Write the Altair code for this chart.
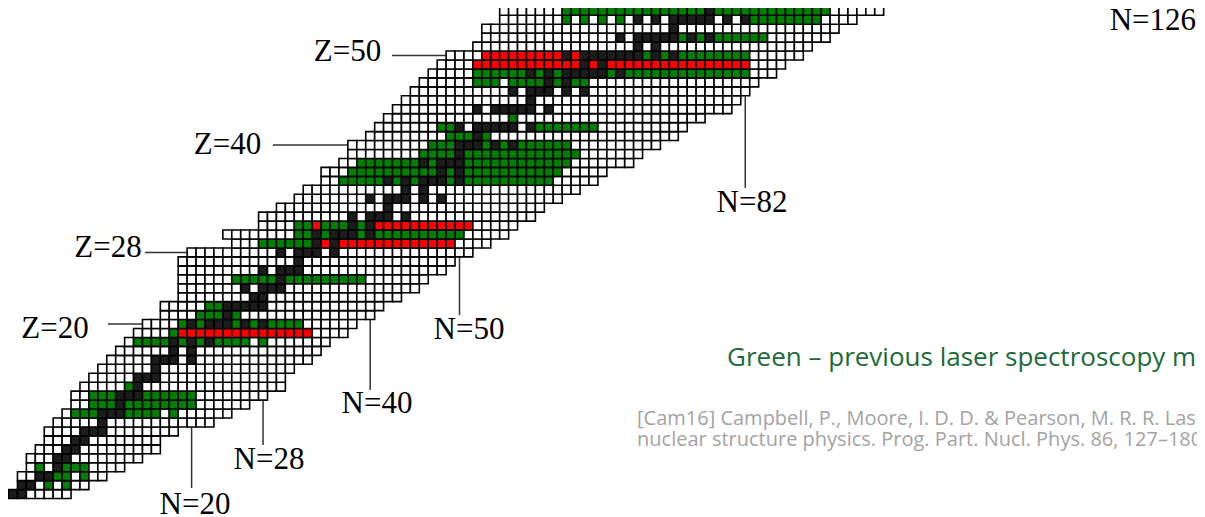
import altair as alt
import pandas as pd

# ---------------- data ----------------
Z_VALUES = list(range(1, 56))
N_FIRST = [0, 1, 1, 2, 2, 3, 4, 4, 5, 6,
           7, 7, 8, 9, 10, 11, 12, 13, 14, 15,
           17, 17, 19, 19, 19, 19, 19, 20, 25, 24,
           28, 28, 30, 32, 33, 35, 35, 37, 38, 38,
           40, 41, 42, 43, 44, 45, 46, 47, 48, 49,
           52, 53, 53, 55, 55]
N_LAST = [6, 8, 10, 12, 14, 16, 16, 18, 22, 24,
          26, 28, 30, 30, 31, 33, 34, 35, 37, 38,
          40, 41, 43, 45, 46, 48, 49, 51, 53, 55,
          56, 58, 59, 61, 63, 65, 66, 69, 70, 72,
          74, 75, 77, 80, 81, 82, 83, 85, 86, 88,
          89, 91, 92, 94, 97]

STABLE = {
    1: [0, 1], 2: [1, 2], 3: [3, 4], 4: [5], 5: [5, 6], 6: [6, 7], 7: [7, 8],
    8: [8, 9, 10], 9: [10], 10: [10, 11, 12], 11: [12], 12: [12, 13, 14],
    13: [14], 14: [14, 15, 16], 15: [16], 16: [16, 17, 18, 20], 17: [18, 20],
    18: [18, 20, 22], 19: [20, 21, 22], 20: [20, 22, 23, 24, 26, 28], 21: [24],
    22: [24, 25, 26, 27, 28], 23: [27, 28], 24: [26, 28, 29, 30], 25: [30],
    26: [28, 30, 31, 32], 27: [32], 28: [30, 32, 33, 34, 36], 29: [34, 36],
    30: [34, 36, 37, 38, 40], 31: [38, 40], 32: [38, 40, 41, 42, 44], 33: [42],
    34: [40, 42, 43, 44, 46, 48], 35: [44, 46], 36: [42, 44, 46, 47, 48, 50],
    37: [48, 50], 38: [46, 48, 49, 50], 39: [50], 40: [50, 51, 52, 54, 56],
    41: [52], 42: [50, 52, 53, 54, 55, 56, 58], 44: [52, 54, 55, 56, 57, 58, 60],
    45: [58], 46: [56, 58, 59, 60, 62, 64], 47: [60, 62],
    48: [58, 60, 62, 63, 64, 65, 66, 68], 49: [64, 66],
    50: [62, 64, 65, 66, 67, 68, 69, 70, 72, 74], 51: [70, 72],
    52: [68, 70, 71, 72, 73, 74, 76, 78], 53: [74],
    54: [70, 72, 74, 75, 76, 77, 78, 80, 82], 55: [78],
}

# runs of (first N, last N) measured previously (green)
GREEN_RUNS = {
    2: [(4, 4), (6, 6)], 3: [(5, 6), (8, 8)], 4: [(3, 3), (6, 8)],
    10: [(7, 9), (13, 16), (18, 18)], 11: [(9, 20)], 12: [(9, 20)], 13: [(13, 13)],
    18: [(14, 26), (28, 28)], 19: [(18, 18)],
    20: [(19, 19), (21, 21), (25, 25), (27, 27), (29, 32)],
    21: [(21, 23), (25, 25)], 22: [(22, 23)], 25: [(25, 39)],
    29: [(28, 33)], 30: [(32, 50)], 31: [(32, 33), (35, 37), (39, 39)],
    36: [(37, 60)], 37: [(38, 61)], 38: [(39, 62)], 39: [(46, 63)], 40: [(47, 62)],
    41: [(49, 51), (53, 53)], 42: [(48, 49), (59, 65)], 43: [(56, 56)],
    47: [(52, 54), (56, 64)], 48: [(52, 82)], 50: [(71, 71), (73, 73), (75, 82)],
    52: [(75, 75), (77, 77), (79, 84)],
    54: [(62, 62), (64, 64), (66, 66), (68, 68), (83, 90)], 55: [(62, 91)],
}

# runs of (first N, last N) of the new measurements (red)
RED_RUNS = {
    19: [(19, 33)], 29: [(35, 35), (37, 49)], 31: [(34, 34), (41, 51)],
    49: [(52, 63), (65, 65), (67, 82)], 50: [(53, 61), (63, 63)],
}

MAGIC_Z = [50, 40, 28, 20]
MAGIC_Z_FROM = [42.44, 29.1, 14.78, 10.64]
MAGIC_Z_TO = [49, 38, 20, 15]
MAGIC_N = [20, 28, 40, 50, 82]
MAGIC_N_TOP = [10, 12, 21, 28, 46]
MAGIC_N_BOTTOM = [1.68, 6.48, 12.63, 21.0, 35.2]

LABELS = ["Z=50", "Z=40", "Z=28", "Z=20", "N=20", "N=28", "N=40", "N=50", "N=82", "N=126"]
LABEL_N = [37.46, 24.02, 10.64, 4.70, 20.38, 28.67, 40.76, 51.06, 82.75, 127.65]
LABEL_Z = [50.34, 40.0, 28.44, 19.44, -0.22, 4.8, 11.06, 19.33, 33.52, 53.85]

GREEN_NOTE = ["Green \u2013 previous laser spectroscopy measurements"]
GREEN_NOTE_N = [79.96]
GREEN_NOTE_Z = [15.34]
REF_NOTE = ["[Cam16] Campbell, P., Moore, I. D. D. & Pearson, M. R. R. Laser spectroscopy for",
            "nuclear structure physics. Prog. Part. Nucl. Phys. 86, 127\u2013180 (2016)."]
REF_NOTE_N = [69.88, 69.88]
REF_NOTE_Z = [8.66, 6.37]

# ---------------- tables ----------------
def in_runs(n, runs):
    return any(a <= n <= b for a, b in runs)

rows = []
for z, lo, hi in zip(Z_VALUES, N_FIRST, N_LAST):
    for n in range(lo, hi + 1):
        if in_runs(n, RED_RUNS.get(z, [])):
            s = "red"
        elif n in STABLE.get(z, []):
            s = "stable"
        elif in_runs(n, GREEN_RUNS.get(z, [])):
            s = "green"
        else:
            s = "unmeasured"
        rows.append({"N": n, "Z": z, "status": s})
cells = pd.DataFrame(rows)

hl = pd.DataFrame({"z": MAGIC_Z, "n0": MAGIC_Z_FROM, "n1": MAGIC_Z_TO})
vl = pd.DataFrame({"n": MAGIC_N, "z0": MAGIC_N_TOP, "z1": MAGIC_N_BOTTOM})
labels = pd.DataFrame({"t": LABELS, "N": LABEL_N, "Z": LABEL_Z})
gnote = pd.DataFrame({"t": GREEN_NOTE, "N": GREEN_NOTE_N, "Z": GREEN_NOTE_Z})
rnote = pd.DataFrame({"t": REF_NOTE, "N": REF_NOTE_N, "Z": REF_NOTE_Z})

# plot area: 1 unit of N = 8.93 px, 1 unit of Z = 8.95 px
W, H = 1189, 509
PX_N, PX_Z = 8.93, 8.95
xs = alt.Scale(domain=[-5 / PX_N, (W - 5) / PX_N], nice=False, zero=False)
ys = alt.Scale(domain=[(495 - H) / PX_Z, 495 / PX_Z], nice=False, zero=False)

hlines = alt.Chart(hl).mark_rule(color="#333333", strokeWidth=1.5).encode(
    x=alt.X("n0:Q", scale=xs, axis=None), x2="n1:Q",
    y=alt.Y("z:Q", scale=ys, axis=None))
vlines = alt.Chart(vl).mark_rule(color="#333333", strokeWidth=1.5).encode(
    x=alt.X("n:Q", scale=xs, axis=None),
    y=alt.Y("z0:Q", scale=ys, axis=None), y2="z1:Q")

rects = alt.Chart(cells).transform_calculate(
    n0="datum.N - 0.5", n1="datum.N + 0.5", z0="datum.Z - 0.5", z1="datum.Z + 0.5"
).mark_rect(stroke="black", strokeWidth=1.6).encode(
    x=alt.X("n0:Q", scale=xs, axis=None), x2="n1:Q",
    y=alt.Y("z0:Q", scale=ys, axis=None), y2="z1:Q",
    color=alt.Color("status:N", legend=None, scale=alt.Scale(
        domain=["unmeasured", "stable", "green", "red"],
        range=["#ffffff", "#1c1c1c", "#008000", "#ff0000"])))

lab = alt.Chart(labels).mark_text(font="Liberation Serif", fontSize=31, color="black",
                                  align="center", baseline="middle").encode(
    x=alt.X("N:Q", scale=xs, axis=None), y=alt.Y("Z:Q", scale=ys, axis=None), text="t:N")

gtxt = alt.Chart(gnote).mark_text(font="Open Sans", fontSize=26, color="#1b6b3a",
                                  align="left", baseline="alphabetic").encode(
    x=alt.X("N:Q", scale=xs, axis=None), y=alt.Y("Z:Q", scale=ys, axis=None), text="t:N")

rtxt = alt.Chart(rnote).mark_text(font="Open Sans", fontSize=20, color="#a3a3a3",
                                  align="left", baseline="alphabetic").encode(
    x=alt.X("N:Q", scale=xs, axis=None), y=alt.Y("Z:Q", scale=ys, axis=None), text="t:N")

chart = alt.layer(hlines, vlines, rects, lab, gtxt, rtxt).properties(
    width=W, height=H, padding=0, autosize=alt.AutoSizeParams(type="none"),
    background="white"
).configure_view(strokeWidth=0)

chart.save("out.html", embed_options={"renderer": "svg", "actions": False})
